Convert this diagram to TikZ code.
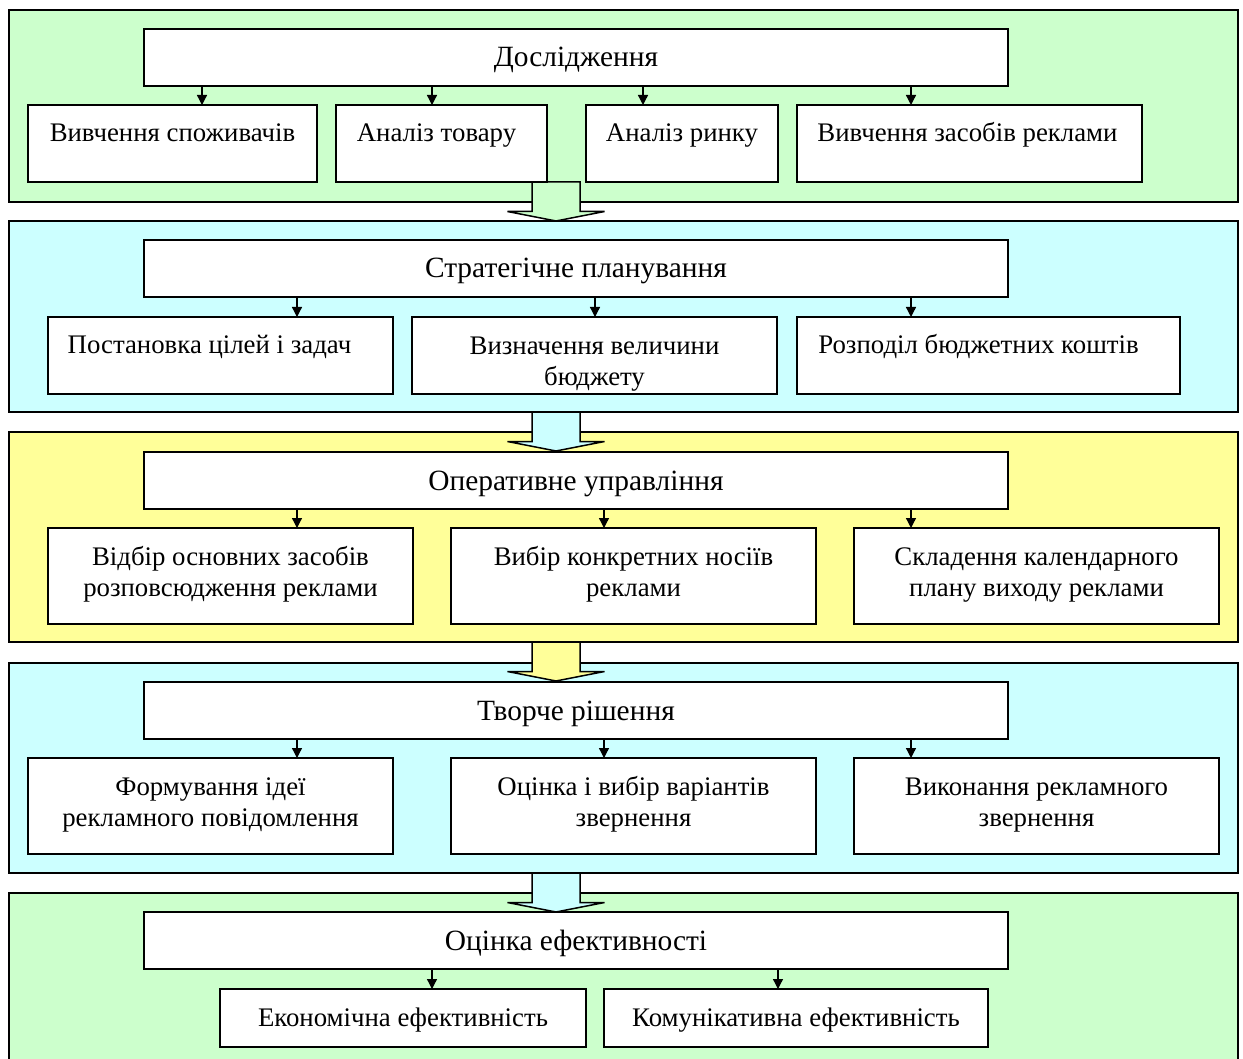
\documentclass[tikz,border=0pt]{standalone}
\usepackage{fontspec}
\setmainfont{Liberation Serif}
\usetikzlibrary{arrows.meta}
\definecolor{pgreen}{HTML}{CCFFCC}
\definecolor{pcyan}{HTML}{CCFFFF}
\definecolor{pyellow}{HTML}{FFFF99}

\tikzset{
  panel/.style={draw=black, line width=2pt, inner sep=0pt, outer sep=0pt},
  box/.style={draw=black, fill=white, line width=1.4pt, inner sep=0pt, outer sep=0pt},
  lbl/.style={font=\fontsize{26.8}{31}\selectfont, align=center, inner sep=0pt, anchor=base},
  ttl/.style={lbl, font=\fontsize{29.4}{34}\selectfont},
  arr/.style={line width=1.3pt, -{Triangle[width=10pt,length=10pt]}},
  blk/.style={draw=black, line width=1.5pt, line join=miter},
}

% rectangle node given by its corners: style, name, x1, y1, x2, y2
\newcommand\rectnode[6]{%
  \node[#1, minimum width={#5-#3}, minimum height={#6-#4}] (#2) at ({(#3+#5)/2},{(#4+#6)/2}) {};}
% one-line text near the top of a box: [horizontal shift], box name, text
\newcommand\boxtext[3][0]{%
  \node[lbl] (#2t) at ([xshift=#1pt, yshift=-37pt]#2.north) {#3};}
% two-line text near the top of a box (base anchor sits on the last line)
\newcommand\boxtexttwo[2]{%
  \node[lbl] (#1t) at ([yshift=-68pt]#1.north) {#2};}
% title text of a stage
\newcommand\titletext[2]{%
  \node[ttl] (#1t) at ([yshift=-38pt]#1.north) {#2};}
% wide block arrow pointing down from a named coordinate: fill colour, coordinate
\newcommand\blockarrow[2]{%
  \draw[blk, fill=#1] (#2) ++(-24,0) -- ++(0,29.5) -- ++(-24.5,0) -- ++(48.5,9.5)
    -- ++(48.5,-9.5) -- ++(-24.5,0) -- ++(0,-29.5) -- cycle;}

\begin{document}
\begin{tikzpicture}[x=1pt, y=-1pt]
  \clip (0,0) rectangle (1243,1059);
  \fill[white] (0,0) rectangle (1243,1059);

  % stage panels
  \rectnode{panel, fill=pgreen}{p1}{9}{10}{1238}{202}
  \rectnode{panel, fill=pcyan}{p2}{9}{221}{1238}{412}
  \rectnode{panel, fill=pyellow}{p3}{9}{432}{1238}{642}
  \rectnode{panel, fill=pcyan}{p4}{9}{663}{1238}{873}
  \rectnode{panel, fill=pgreen}{p5}{9}{893}{1238}{1080}

  % arrows leading from one stage to the next
  \coordinate (a1) at (556,182);
  \coordinate (a2) at (556,412);
  \coordinate (a3) at (556,642);
  \coordinate (a4) at (556,873);
  \blockarrow{pgreen}{a1}
  \blockarrow{pcyan}{a2}
  \blockarrow{pyellow}{a3}
  \blockarrow{pcyan}{a4}

  % stage 1
  \rectnode{box}{t1}{144}{29}{1008}{86}
  \titletext{t1}{Дослідження}
  \rectnode{box}{b11}{28}{105}{317}{182}
  \rectnode{box}{b12}{336}{105}{547}{182}
  \rectnode{box}{b13}{586}{105}{778}{182}
  \rectnode{box}{b14}{797}{105}{1142}{182}
  \boxtext{b11}{Вивчення споживачів}
  \boxtext[-5]{b12}{Аналіз товару}
  \boxtext{b13}{Аналіз ринку}
  \boxtext[-2]{b14}{Вивчення засобів реклами}
  \coordinate (x11) at (202,0);
  \coordinate (x12) at (432,0);
  \coordinate (x13) at (643,0);
  \coordinate (x14) at (911,0);
  \draw[arr] (t1.south -| x11) -- (b11.north -| x11);
  \draw[arr] (t1.south -| x12) -- (b12.north -| x12);
  \draw[arr] (t1.south -| x13) -- (b13.north -| x13);
  \draw[arr] (t1.south -| x14) -- (b14.north -| x14);

  % stage 2
  \rectnode{box}{t2}{144}{240}{1008}{297}
  \titletext{t2}{Стратегічне планування}
  \rectnode{box}{b21}{48}{317}{393}{394}
  \rectnode{box}{b22}{412}{317}{777}{394}
  \rectnode{box}{b23}{797}{317}{1180}{394}
  \boxtext[-11]{b21}{Постановка цілей і задач}
  \boxtexttwo{b22}{Визначення величини\\бюджету}
  \boxtext[-10]{b23}{Розподіл бюджетних коштів}
  \coordinate (x21) at (297,0);
  \coordinate (x22) at (595,0);
  \coordinate (x23) at (911,0);
  \draw[arr] (t2.south -| x21) -- (b21.north -| x21);
  \draw[arr] (t2.south -| x22) -- (b22.north -| x22);
  \draw[arr] (t2.south -| x23) -- (b23.north -| x23);

  % stage 3
  \rectnode{box}{t3}{144}{452}{1008}{509}
  \titletext{t3}{Оперативне управління}
  \rectnode{box}{b31}{48}{528}{413}{624}
  \rectnode{box}{b32}{451}{528}{816}{624}
  \rectnode{box}{b33}{854}{528}{1219}{624}
  \boxtexttwo{b31}{Відбір основних засобів\\розповсюдження реклами}
  \boxtexttwo{b32}{Вибір конкретних носіїв\\реклами}
  \boxtexttwo{b33}{Складення календарного\\плану виходу реклами}
  \coordinate (x31) at (297,0);
  \coordinate (x32) at (604,0);
  \coordinate (x33) at (911,0);
  \draw[arr] (t3.south -| x31) -- (b31.north -| x31);
  \draw[arr] (t3.south -| x32) -- (b32.north -| x32);
  \draw[arr] (t3.south -| x33) -- (b33.north -| x33);

  % stage 4
  \rectnode{box}{t4}{144}{682}{1008}{739}
  \titletext{t4}{Творче рішення}
  \rectnode{box}{b41}{28}{758}{393}{854}
  \rectnode{box}{b42}{451}{758}{816}{854}
  \rectnode{box}{b43}{854}{758}{1219}{854}
  \boxtexttwo{b41}{Формування ідеї\\рекламного повідомлення}
  \boxtexttwo{b42}{Оцінка і вибір варіантів\\звернення}
  \boxtexttwo{b43}{Виконання рекламного\\звернення}
  \coordinate (x41) at (297,0);
  \coordinate (x42) at (604,0);
  \coordinate (x43) at (911,0);
  \draw[arr] (t4.south -| x41) -- (b41.north -| x41);
  \draw[arr] (t4.south -| x42) -- (b42.north -| x42);
  \draw[arr] (t4.south -| x43) -- (b43.north -| x43);

  % stage 5
  \rectnode{box}{t5}{144}{912}{1008}{969}
  \titletext{t5}{Оцінка ефективності}
  \rectnode{box}{b51}{220}{989}{586}{1047}
  \rectnode{box}{b52}{604}{989}{988}{1047}
  \boxtext{b51}{Економічна ефективність}
  \boxtext{b52}{Комунікативна ефективність}
  \coordinate (x51) at (432,0);
  \coordinate (x52) at (778,0);
  \draw[arr] (t5.south -| x51) -- (b51.north -| x51);
  \draw[arr] (t5.south -| x52) -- (b52.north -| x52);
\end{tikzpicture}
\end{document}
